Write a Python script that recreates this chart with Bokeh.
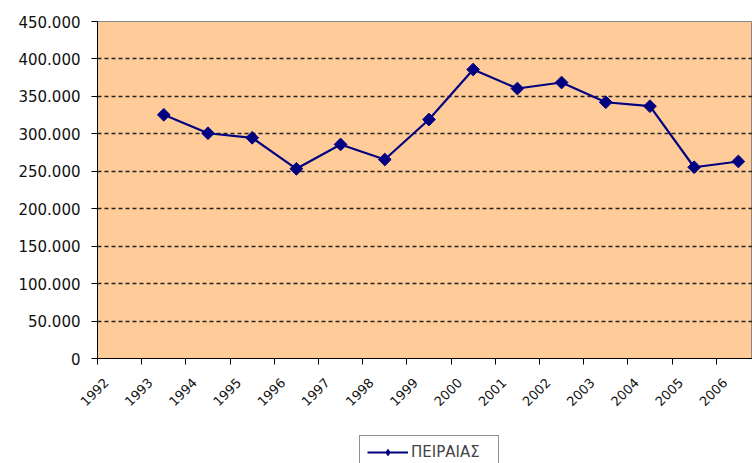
import math
from bokeh.plotting import figure
from bokeh.layouts import column
from bokeh.models import FixedTicker, Range1d, Legend, LegendItem, ColumnDataSource
from bokeh.embed import file_html
from bokeh.resources import INLINE

# ---- data ----
years = ["1992", "1993", "1994", "1995", "1996", "1997", "1998", "1999",
         "2000", "2001", "2002", "2003", "2004", "2005", "2006"]
series_years = ["1993", "1994", "1995", "1996", "1997", "1998", "1999",
                "2000", "2001", "2002", "2003", "2004", "2005", "2006"]
piraeus = [325400, 300800, 294700, 253300, 285800, 265700, 319100,
           385900, 360500, 368500, 342200, 336900, 255400, 263100]
series_name = "ΠΕΙΡΑΙΑΣ"
y_ticks = [0, 50000, 100000, 150000, 200000, 250000, 300000, 350000, 400000, 450000]
y_tick_labels = ["0", "50.000", "100.000", "150.000", "200.000", "250.000",
                 "300.000", "350.000", "400.000", "450.000"]

# category slot width in x units; centres at slot*i + slot/2
SLOT = 10
LABEL_SHIFT = 2

xs = [years.index(y) * SLOT + SLOT // 2 for y in series_years]
src = ColumnDataSource(dict(x=xs, y=piraeus))

FONT = "DejaVu Sans"
LINE_COLOR = "#000080"

p = figure(width=752, height=425, output_backend="svg", toolbar_location=None,
           x_range=Range1d(0, 148.2), y_range=Range1d(0, 450000),
           min_border_left=97, min_border_right=0, min_border_top=21,
           min_border_bottom=67)

p.background_fill_color = "#FFCC99"
p.border_fill_color = "white"
p.outline_line_color = "#888888"
p.outline_line_width = 1

p.line("x", "y", source=src, line_color=LINE_COLOR, line_width=2.2)
p.scatter("x", "y", source=src, marker="square", angle=math.pi / 4, size=9,
          fill_color=LINE_COLOR, line_color=LINE_COLOR)

# x axis: tick marks at category boundaries (minor), labels near centres
xt = FixedTicker(ticks=[i * SLOT + LABEL_SHIFT for i in range(len(years))],
                 minor_ticks=[i * SLOT for i in range(len(years) + 1)])
p.xaxis.ticker = xt
p.xaxis.major_label_overrides = {i * SLOT + LABEL_SHIFT: years[i] for i in range(len(years))}
p.xaxis.major_tick_out = 0
p.xaxis.major_tick_in = 0
p.xaxis.minor_tick_out = 6
p.xaxis.minor_tick_in = 0
p.xaxis.minor_tick_line_color = "black"
p.xaxis.major_label_orientation = math.pi / 4
p.xaxis.major_label_text_font = FONT
p.xaxis.major_label_text_font_size = "13px"
p.xaxis.major_label_text_color = "#111111"
p.xaxis.major_label_standoff = 16
p.xaxis.axis_line_color = "black"

p.yaxis.ticker = FixedTicker(ticks=y_ticks, minor_ticks=[])
p.yaxis.major_label_overrides = {t: l for t, l in zip(y_ticks, y_tick_labels)}
p.yaxis.major_tick_out = 6
p.yaxis.major_tick_in = 0
p.yaxis.minor_tick_out = 0
p.yaxis.minor_tick_in = 0
p.yaxis.major_label_text_font = FONT
p.yaxis.major_label_text_font_size = "15px"
p.yaxis.major_label_text_color = "#111111"
p.yaxis.major_label_standoff = 11
p.yaxis.axis_line_color = "black"

p.xgrid.visible = False
p.ygrid.grid_line_color = "#222222"
p.ygrid.grid_line_dash = "4 3"
p.ygrid.grid_line_width = 1.5

# ---- legend strip below the chart ----
q = figure(width=752, height=38, output_backend="svg", toolbar_location=None,
           x_range=p.x_range, y_range=p.y_range,
           min_border_left=0, min_border_right=0, min_border_top=0,
           min_border_bottom=0, x_axis_location=None, y_axis_location=None)
q.grid.visible = False
q.outline_line_color = None
q.background_fill_color = "white"
q.border_fill_color = "white"
lr = q.line("x", "y", source=src, line_color=LINE_COLOR, line_width=2.2, visible=False)
sr = q.scatter("x", "y", source=src, marker="diamond", size=11,
               fill_color=LINE_COLOR, line_color=LINE_COLOR, visible=False)

legend = Legend(items=[LegendItem(label=series_name, renderers=[lr, sr])],
                location=(262, -6), orientation="horizontal",
                border_line_color="#222222", border_line_width=1,
                background_fill_color="white", background_fill_alpha=1,
                label_text_font=FONT, label_text_font_size="15px",
                glyph_width=41, glyph_height=16, padding=7, margin=0,
                label_standoff=3, label_width=80, spacing=0,
                inactive_fill_alpha=0)
q.add_layout(legend)

layout = column(p, q, spacing=0)
open("out.html", "w").write(file_html(layout, INLINE))
